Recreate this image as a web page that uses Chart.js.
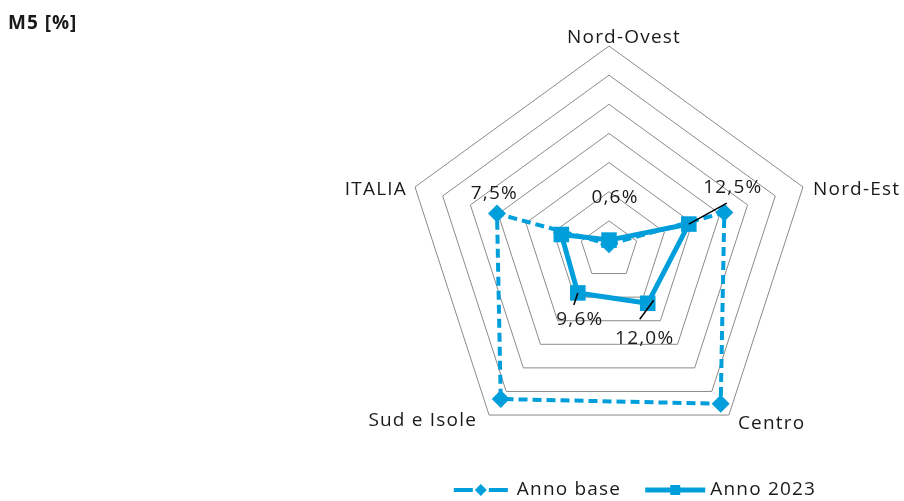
<!DOCTYPE html>
<html>
<head>
<meta charset="utf-8">
<script src="https://cdn.jsdelivr.net/npm/chart.js@4.4.0/dist/chart.umd.min.js"></script>
<style>
  html, body { margin: 0; padding: 0; background: #fff; }
  #wrap { position: relative; width: 904px; height: 501px; }
  #title { position: absolute; left: 8px; top: 9px; font: bold 19px "Open Sans", sans-serif; letter-spacing: 1px; color: #1a1a1a; }
</style>
</head>
<body>
<div id="wrap">
  <canvas id="chart" width="904" height="501"></canvas>
  <div id="title">M5 [%]</div>
</div>
<script>
const regions = ['Nord-Ovest', 'Nord-Est', 'Centro', 'Sud e Isole', 'ITALIA'];
const annoBase = [1.0, 20.8, 32.6, 31.6, 20.2];
const anno2023 = [1.7, 14.4, 11.3, 9.1, 8.6];
const labels2023 = ['0,6%', '12,5%', '12,0%', '9,6%', '7,5%'];
const seriesNames = ['Anno base', 'Anno 2023'];
const scaleMax = 35;
const scaleStep = 5;

const blue = '#009fdb';
const textColor = '#1a1a1a';
const font = '19px "Open Sans", sans-serif';
const spacing = '1.2px';

// where the axis names sit, relative to the outer vertex
const pointLabelStyle = [
  { align: 'center', dx: 15, dy: -8 },
  { align: 'left', dx: 10, dy: 3 },
  { align: 'left', dx: 9, dy: 9 },
  { align: 'right', dx: -12, dy: 6 },
  { align: 'right', dx: -8, dy: 3 },
];

// value labels of Anno 2023, relative to each point, with leader lines
const valueLabelStyle = [
  { dx: 6, dy: -42, lead: null },
  { dx: 44, dy: -36, lead: [0, 0, 38, -21] },
  { dx: -3, dy: 35, lead: [6, -3, -8, 16] },
  { dx: 2, dy: 27, lead: [0, 0, -4, 12] },
  { dx: -67, dy: -41, lead: null },
];

const axisNamesPlugin = {
  id: 'axisNames',
  afterDraw(chart) {
    const scale = chart.scales.r;
    const ctx = chart.ctx;
    ctx.save();
    ctx.font = font;
    ctx.letterSpacing = spacing;
    ctx.fillStyle = textColor;
    ctx.textBaseline = 'middle';
    regions.forEach((name, i) => {
      const p = scale.getPointPosition(i, scale.drawingArea);
      const s = pointLabelStyle[i];
      ctx.textAlign = s.align;
      ctx.fillText(name, p.x + s.dx, p.y + s.dy);
    });
    ctx.restore();
  },
};

const valueLabelsPlugin = {
  id: 'valueLabels',
  afterDatasetsDraw(chart) {
    const meta = chart.getDatasetMeta(1);
    const ctx = chart.ctx;
    ctx.save();
    ctx.font = font;
    ctx.letterSpacing = spacing;
    ctx.fillStyle = textColor;
    ctx.strokeStyle = '#000';
    ctx.lineWidth = 1.5;
    ctx.textAlign = 'center';
    ctx.textBaseline = 'middle';
    meta.data.forEach((pt, i) => {
      const s = valueLabelStyle[i];
      if (s.lead) {
        ctx.beginPath();
        ctx.moveTo(pt.x + s.lead[0], pt.y + s.lead[1]);
        ctx.lineTo(pt.x + s.lead[2], pt.y + s.lead[3]);
        ctx.stroke();
      }
      ctx.fillText(labels2023[i], pt.x + s.dx, pt.y + s.dy);
    });
    ctx.restore();
  },
};

const legendPlugin = {
  id: 'lineLegend',
  afterDraw(chart) {
    const ctx = chart.ctx;
    const y = 490;
    ctx.save();
    ctx.font = font;
    ctx.letterSpacing = spacing;
    const w0 = ctx.measureText(seriesNames[0]).width;
    const w1 = ctx.measureText(seriesNames[1]).width;
    const total = 54 + 9 + w0 + 24 + 60 + 5 + w1;
    let x = 635 - total / 2;

    // Anno base: dashed with diamond
    ctx.strokeStyle = blue;
    ctx.fillStyle = blue;
    ctx.lineWidth = 4;
    ctx.beginPath();
    ctx.moveTo(x, y); ctx.lineTo(x + 19, y);
    ctx.moveTo(x + 35, y); ctx.lineTo(x + 54, y);
    ctx.stroke();
    ctx.beginPath();
    ctx.moveTo(x + 27, y - 6); ctx.lineTo(x + 33, y);
    ctx.lineTo(x + 27, y + 6); ctx.lineTo(x + 21, y);
    ctx.closePath();
    ctx.fill();
    x += 54 + 9;
    ctx.fillStyle = textColor;
    ctx.textBaseline = 'middle';
    ctx.fillText(seriesNames[0], x, y);
    x += w0 + 24;

    // Anno 2023: solid with square
    ctx.fillStyle = blue;
    ctx.lineWidth = 5;
    ctx.beginPath();
    ctx.moveTo(x, y); ctx.lineTo(x + 60, y);
    ctx.stroke();
    ctx.fillRect(x + 25, y - 5, 10, 10);
    x += 60 + 5;
    ctx.fillStyle = textColor;
    ctx.fillText(seriesNames[1], x, y);
    ctx.restore();
  },
};

new Chart(document.getElementById('chart'), {
  type: 'radar',
  data: {
    labels: regions,
    datasets: [
      {
        label: seriesNames[0],
        data: annoBase,
        borderColor: blue,
        borderWidth: 4,
        borderDash: [9, 5],
        pointStyle: 'rectRot',
        pointRadius: 9,
        pointBackgroundColor: blue,
        pointBorderColor: blue,
        pointBorderWidth: 0,
        fill: false,
        tension: 0,
        order: 1,
      },
      {
        label: seriesNames[1],
        data: anno2023,
        borderColor: blue,
        borderWidth: 5,
        pointStyle: 'rect',
        pointRadius: 11,
        pointBackgroundColor: blue,
        pointBorderColor: blue,
        pointBorderWidth: 0,
        fill: false,
        tension: 0,
        order: 0,
      },
    ],
  },
  options: {
    responsive: false,
    animation: false,
    layout: { padding: { left: 405, right: 90, top: 46, bottom: 47 } },
    plugins: {
      legend: { display: false },
      tooltip: { enabled: false },
    },
    scales: {
      r: {
        min: 0,
        max: scaleMax,
        ticks: { display: false, stepSize: scaleStep },
        grid: { color: '#8a8a8a', lineWidth: 1 },
        angleLines: { display: false },
        pointLabels: { display: false },
      },
    },
  },
  plugins: [axisNamesPlugin, valueLabelsPlugin, legendPlugin],
});
</script>
</body>
</html>
